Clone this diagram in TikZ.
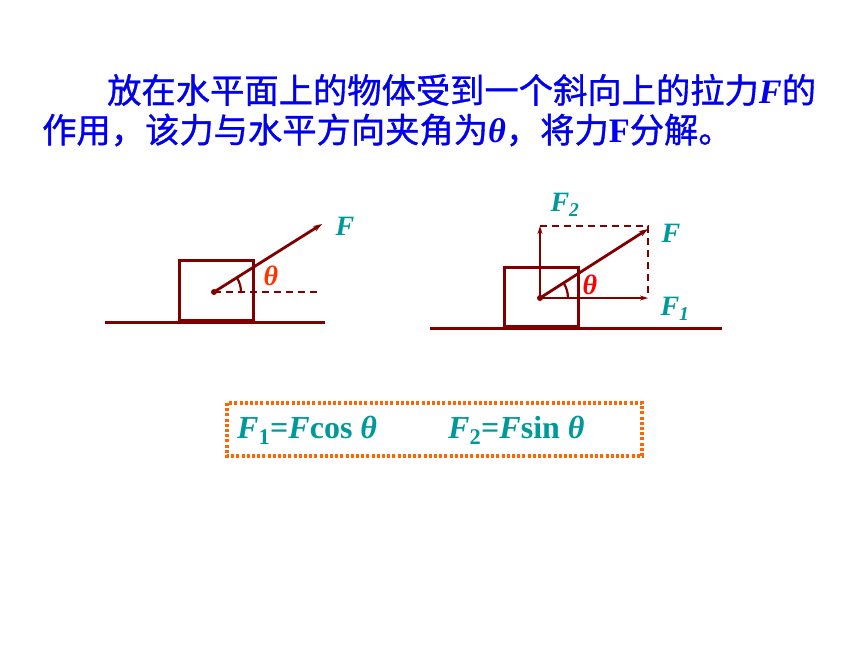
\documentclass[tikz,border=0pt]{standalone}
\usepackage{fontspec}
\setmainfont{Liberation Serif}
\newfontfamily\cjk[FakeBold=1]{Noto Sans CJK SC}
\usetikzlibrary{arrows.meta}
\definecolor{dred}{HTML}{800000}
\definecolor{teal2}{HTML}{009999}
\definecolor{thred}{HTML}{FF3300}
\definecolor{orng}{HTML}{FF6600}
\definecolor{headblue}{HTML}{0000EE}
\tikzset{
  phys/.style={draw=dred, line width=3pt},
  force/.style={draw=dred, line width=2.8pt, -{Stealth[length=9pt,width=6pt]}},
  compf/.style={draw=dred, line width=2.4pt, -{Stealth[length=8pt,width=5pt]}},
  helper/.style={draw=dred, line width=2.8pt, dash pattern=on 7pt off 5pt},
  anglearc/.style={draw=dred, line width=2.2pt},
  lab/.style={text=teal2, font=\fontsize{28}{30}\selectfont\bfseries\itshape, inner sep=0pt},
  ang/.style={text=thred, font=\fontsize{28}{30}\selectfont\bfseries\itshape, inner sep=0pt},
  head/.style={text=headblue, anchor=west, inner sep=0pt, font=\fontsize{34.3}{38}\selectfont},
  formula/.style={text=teal2, font=\fontsize{32}{34}\selectfont\bfseries, anchor=west, inner sep=0pt},
}
\begin{document}
\begin{tikzpicture}[x=1pt,y=-1pt]
\useasboundingbox (0,0) rectangle (860,645);
% heading
\node[head] (h1) at (107,90) {\cjk 放在水平面上的物体受到一个斜向上的拉力\rmfamily\bfseries\itshape F\cjk\mdseries\upshape 的};
\node[head] (h2) at (42,130) {\cjk 作用，该力与水平方向夹角为\rmfamily\bfseries\itshape θ\cjk\mdseries\upshape ，将力\rmfamily\bfseries F\cjk\mdseries 分解。};
% left diagram
\coordinate (gl1) at (105,322);
\coordinate (gl2) at (325,322);
\draw[phys] (gl1) -- (gl2);
\node[phys, minimum width=74pt, minimum height=60pt, inner sep=0pt, anchor=south west] (box1) at (178,322) {};
\coordinate (o1) at (214,292);
\coordinate (f1) at (322,224);
\coordinate (d1) at (320,292);
\fill[dred] (o1) circle (3pt);
\draw[helper] (o1) -- (d1);
\draw[force] (o1) -- (f1);
\draw[anglearc] ([shift={(0:27pt)}]o1) arc[start angle=0, end angle=32, radius=27pt];
\node[ang] (th1) at (271,276) {θ};
\node[lab] (F1l) at (345,226) {F};
% right diagram
\coordinate (gr1) at (430,328);
\coordinate (gr2) at (722,328);
\draw[phys] (gr1) -- (gr2);
\node[phys, minimum width=74pt, minimum height=59pt, inner sep=0pt, anchor=south west] (box2) at (503,328) {};
\coordinate (o2) at (540,298);
\coordinate (f2) at (648,229);
\coordinate (fx) at (648,298);
\coordinate (fy) at (540,226);
\coordinate (corner) at (648,226);
\draw[helper] (fy) -- (corner) -- (fx);
\fill[dred] (o2) circle (3pt);
\draw[force] (o2) -- (f2);
\draw[compf] (o2) -- (fx);
\draw[compf] (o2) -- (fy);
\draw[anglearc] ([shift={(0:28pt)}]o2) arc[start angle=0, end angle=32, radius=28pt];
\node[ang, text=red] (th2) at (590,285) {θ};
\node[lab] (Fr) at (671,233) {F};
\node[lab] (F2r) at (565,205) {F\textsubscript{\itshape 2}};
\node[lab] (F1r) at (675,309) {F\textsubscript{\itshape 1}};
% formula box
\draw[orng, line width=3.2pt, dash pattern=on 3pt off 2.2pt] (227,403) rectangle (642,456);
\node[formula] (eq1) at (237,430) {\textit{F}\textsubscript{1}=\textit{F}cos \textit{θ}};
\node[formula] (eq2) at (448,430) {\textit{F}\textsubscript{2}=\textit{F}sin \textit{θ}};
\end{tikzpicture}
\end{document}
